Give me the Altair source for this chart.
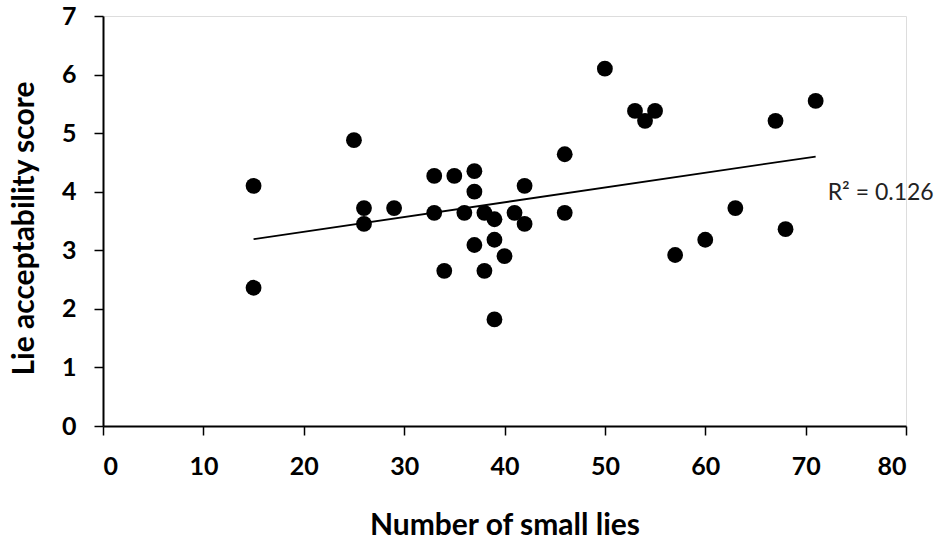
import altair as alt
import pandas as pd

small_lies = [15, 15, 25, 26, 26, 29, 33, 33, 35, 36, 37, 37, 37, 38, 38, 39, 39, 39,
              34, 40, 41, 42, 42, 46, 46, 50, 53, 55, 54, 57, 60, 63, 67, 68, 71]
acceptability = [4.10, 2.36, 4.88, 3.72, 3.45, 3.72, 4.27, 3.64, 4.27, 3.64, 4.35, 4.00, 3.09,
                 3.64, 2.65, 3.53, 3.18, 1.82, 2.65, 2.90, 3.64, 4.10, 3.45, 4.64, 3.64,
                 6.10, 5.38, 5.38, 5.21, 2.92, 3.18, 3.72, 5.21, 3.36, 5.55]
r2_label = ["R² = 0.126"]
r2_pos_x = [72.2]
r2_pos_y = [3.98]

df = pd.DataFrame({"x": small_lies, "y": acceptability})
lab = pd.DataFrame({"x": r2_pos_x, "y": r2_pos_y, "t": r2_label})

FONT = "Lato"
xs = alt.Scale(domain=[0, 80], nice=False, zero=False)
ys = alt.Scale(domain=[0, 7], nice=False, zero=False)

xaxis = alt.Axis(values=list(range(0, 81, 10)), format="d", grid=False, title="Number of small lies",
                 labelFont=FONT, labelFontSize=25, labelFontWeight="bold", labelColor="black",
                 labelPadding=19, tickSize=9, tickWidth=1.5, tickColor="black",
                 domainColor="black", domainWidth=2,
                 titleFont=FONT, titleFontSize=30, titleFontWeight="bold", titleColor="black",
                 titleX=401.5, titleY=108, titleBaseline="alphabetic", titleAlign="center")
yaxis = alt.Axis(values=list(range(0, 8)), format="d", grid=False, title="Lie acceptability score",
                 labelFont=FONT, labelFontSize=25, labelFontWeight="bold", labelColor="black",
                 labelPadding=18, tickSize=9, tickWidth=1.5, tickColor="black",
                 domainColor="black", domainWidth=2,
                 titleFont=FONT, titleFontSize=30, titleFontWeight="bold", titleColor="black",
                 titleX=-79, titleY=212, titleBaseline="middle", titleAlign="center",
                 titleAngle=270)

base = alt.Chart(df)
points = base.mark_circle(size=250, color="black", opacity=1).encode(
    x=alt.X("x:Q", scale=xs, axis=xaxis),
    y=alt.Y("y:Q", scale=ys, axis=yaxis),
)
trend = base.transform_regression("x", "y", extent=[15, 71]).mark_line(
    color="black", strokeWidth=1.8).encode(x=alt.X("x:Q", scale=xs), y=alt.Y("y:Q", scale=ys))
text = alt.Chart(lab).mark_text(font=FONT, fontSize=23, align="left", baseline="middle",
                                color="#222").encode(
    x=alt.X("x:Q", scale=xs), y=alt.Y("y:Q", scale=ys), text="t:N")

chart = alt.layer(points, trend, text).properties(
    width=803, height=410,
    autosize=alt.AutoSizeParams(type="none"),
    padding={"left": 103, "top": 16, "right": 32, "bottom": 115},
).configure_view(stroke=None).configure(background="white")

chart.save("out.html", embed_options={"renderer": "svg", "actions": False})
